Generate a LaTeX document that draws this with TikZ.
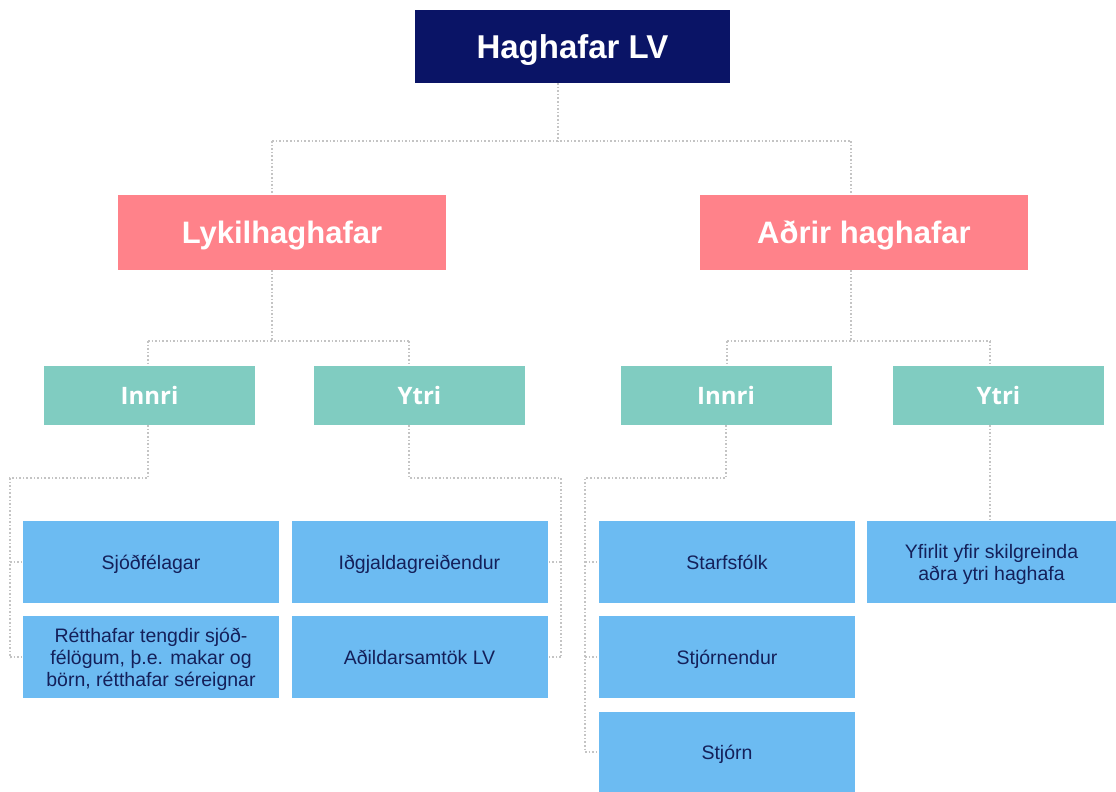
\documentclass[tikz,border=0pt]{standalone}
\usepackage{fontspec}
\setmainfont{Liberation Sans}
\newfontfamily\tealfont{Open Sans}
\definecolor{navy}{HTML}{0A1466}
\definecolor{pinkc}{HTML}{FF828A}
\definecolor{tealc}{HTML}{80CCC1}
\definecolor{bluec}{HTML}{6CBBF2}
\definecolor{txtc}{HTML}{14205A}
\definecolor{linec}{HTML}{C4C4C4}
\tikzset{
  topbox/.style={fill=navy, text=white, font=\bfseries\fontsize{33}{37}\selectfont, minimum width=315pt, minimum height=73pt, inner sep=0pt, text depth=0pt},
  pinkbox/.style={fill=pinkc, text=white, font=\bfseries\fontsize{31}{35}\selectfont, minimum width=328pt, minimum height=75pt, inner sep=0pt, text depth=0pt},
  tealbox/.style={fill=tealc, text=white, font=\tealfont\bfseries\fontsize{24}{28}\selectfont, minimum width=211pt, minimum height=59pt, inner sep=0pt, text depth=0pt},
  bluebox/.style={fill=bluec, text=txtc, font=\fontsize{19.5}{22}\selectfont, minimum width=256pt, minimum height=82pt, inner sep=0pt, align=center, text depth=0pt},
  conn/.style={draw=linec, line width=1.6pt, dotted}
}
\begin{document}
\begin{tikzpicture}[x=1pt,y=-1pt]
\useasboundingbox (0,0) rectangle (1116,792);
% boxes
\node[topbox] (top) at (572.5,46.5) {Haghafar LV};
\node[pinkbox] (lyk) at (282,232.5) {Lykilhaghafar};
\node[pinkbox] (adr) at (864,232.5) {Aðrir haghafar};
\node[tealbox] (in1) at (149.5,395.5) {Innri};
\node[tealbox] (yt1) at (419.5,395.5) {Ytri};
\node[tealbox] (in2) at (726,395.5) {Innri};
\node[tealbox] (yt2) at (998.5,395.5) {Ytri};
\node[bluebox] (sjo) at (151,562) {Sjóðfélagar};
\node[bluebox] (ret) at (151,657) {Rétthafar tengdir sjóð-\\félögum, þ.e. makar og\\börn, rétthafar séreignar};
\node[bluebox] (idg) at (419.5,562) {Iðgjaldagreiðendur};
\node[bluebox] (adi) at (419.5,657) {Aðildarsamtök LV};
\node[bluebox] (sta) at (727,562) {Starfsfólk};
\node[bluebox] (stn) at (727,657) {Stjórnendur};
\node[bluebox, minimum height=80pt] (stj) at (727,752) {Stjórn};
\node[bluebox, minimum width=249pt] (yfi) at (991.5,562) {Yfirlit yfir skilgreinda\\aðra ytri haghafa};
% junction coordinates
\coordinate (t0) at (558,83);
\coordinate (t1) at (558,141);
\coordinate (h1L) at (272,141);
\coordinate (h1R) at (851,141);
\coordinate (p1) at (272,270);
\coordinate (p1b) at (272,341);
\coordinate (q1L) at (148,341);
\coordinate (q1R) at (409,341);
\coordinate (p2) at (851,270);
\coordinate (p2b) at (851,341);
\coordinate (q2L) at (727,341);
\coordinate (q2R) at (990,341);
\coordinate (a1) at (148,478);
\coordinate (a1L) at (10,478);
\coordinate (a1B) at (10,658);
\coordinate (a2) at (409,478);
\coordinate (a2R) at (561,478);
\coordinate (a2B) at (561,658);
\coordinate (a3) at (726,478);
\coordinate (a3L) at (585,478);
\coordinate (a3B) at (585,752);
\coordinate (y2a) at (990,425);
\coordinate (y2b) at (990,521);
% connectors
\draw[conn] (t0) -- (t1);
\draw[conn] (h1L) -- (h1R);
\draw[conn] (h1L) -- (h1L |- lyk.north);
\draw[conn] (h1R) -- (h1R |- adr.north);
\draw[conn] (p1) -- (p1b);
\draw[conn] (q1L) -- (q1R);
\draw[conn] (q1L) -- (q1L |- in1.north);
\draw[conn] (q1R) -- (q1R |- yt1.north);
\draw[conn] (p2) -- (p2b);
\draw[conn] (q2L) -- (q2R);
\draw[conn] (q2L) -- (q2L |- in2.north);
\draw[conn] (q2R) -- (q2R |- yt2.north);
% lower buses
\draw[conn] (in1.south -| a1) -- (a1) -- (a1L) -- (a1B);
\draw[conn] (a1L |- sjo.west) -- (sjo.west);
\draw[conn] (a1L |- ret.west) -- (ret.west);
\draw[conn] (yt1.south -| a2) -- (a2) -- (a2R) -- (a2B);
\draw[conn] (a2R |- idg.east) -- (idg.east);
\draw[conn] (a2R |- adi.east) -- (adi.east);
\draw[conn] (in2.south -| a3) -- (a3) -- (a3L) -- (a3B);
\draw[conn] (a3L |- sta.west) -- (sta.west);
\draw[conn] (a3L |- stn.west) -- (stn.west);
\draw[conn] (a3L |- stj.west) -- (stj.west);
\draw[conn] (y2a) -- (y2b);
\end{tikzpicture}
\end{document}
